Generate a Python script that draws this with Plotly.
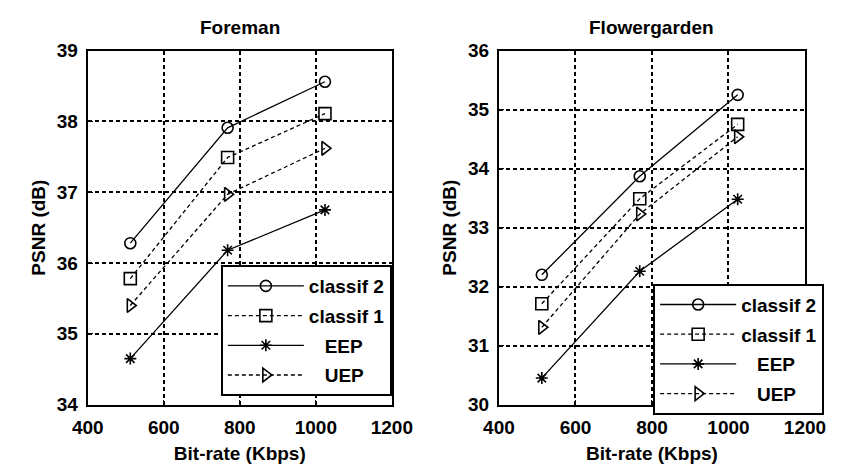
import plotly.graph_objects as go

bitrate = [512, 768, 1024]
series_names = ["classif 2", "classif 1", "EEP", "UEP"]
legend_labels = ["classif 2", "classif 1", "\u00a0\u00a0\u00a0EEP", "\u00a0\u00a0\u00a0UEP"]

foreman_classif2 = [36.28, 37.91, 38.56]
foreman_classif1 = [35.78, 37.49, 38.11]
foreman_eep = [34.65, 36.18, 36.75]
foreman_uep = [35.40, 36.97, 37.62]

flower_classif2 = [32.20, 33.87, 35.25]
flower_classif1 = [31.71, 33.49, 34.75]
flower_eep = [30.45, 32.26, 33.48]
flower_uep = [31.31, 33.23, 34.54]

titles = ["Foreman", "Flowergarden"]
x_ticks = [400, 600, 800, 1000, 1200]
foreman_yticks = [34, 35, 36, 37, 38, 39]
flower_yticks = [30, 31, 32, 33, 34, 35, 36]

FONT = "Liberation Sans, Arial, sans-serif"
TXT = dict(family=FONT, size=19, color="black", weight="bold")
styles = {
    "classif 2": dict(dash="solid", symbol="circle-open", size=11),
    "classif 1": dict(dash="4px,3px", symbol="square-open", size=12),
    "EEP": dict(dash="solid", symbol="asterisk-open", size=10),
    "UEP": dict(dash="4px,3px", symbol="triangle-right-open", size=12),
}

fig = go.Figure()
panels = [
    ("x", "y", "legend", [foreman_classif2, foreman_classif1, foreman_eep, foreman_uep]),
    ("x2", "y2", "legend2", [flower_classif2, flower_classif1, flower_eep, flower_uep]),
]
for xa, ya, lg, data in panels:
    for name, label, vals in zip(series_names, legend_labels, data):
        st = styles[name]
        fig.add_trace(go.Scatter(
            x=bitrate, y=vals, mode="lines+markers", name=label,
            xaxis=xa, yaxis=ya, legend=lg, legendgroup=lg + name,
            line=dict(color="black", width=1.3, dash=st["dash"]),
            marker=dict(symbol=st["symbol"], size=st["size"], color="black",
                        line=dict(color="black", width=1.6)),
        ))

axis_common = dict(
    showline=True, linecolor="black", linewidth=2, mirror=True,
    showgrid=True, gridcolor="black", gridwidth=1.5, griddash="4px,3px",
    ticks="inside", ticklen=5, tickwidth=1, tickcolor="black",
    tickfont=TXT, zeroline=False,
)
W, H = 848, 472
xdom1 = [75 / W, 393 / W]
xdom2 = [505 / W, 825 / W]
ydom = [1 - 413 / H, 1 - 42.5 / H]

legend_common = dict(xanchor="right", yanchor="bottom",
                     bgcolor="white", bordercolor="black", borderwidth=2,
                     font=TXT, traceorder="grouped", tracegroupgap=2, itemwidth=76)

fig.update_layout(
    width=W, height=H, margin=dict(l=0, r=0, t=0, b=0),
    paper_bgcolor="white", plot_bgcolor="white",
    font=TXT,
    xaxis=dict(domain=xdom1, range=[400, 1200], tickvals=x_ticks, anchor="y",
               title=dict(text="Bit-rate (Kbps)", font=TXT, standoff=9),
               ticklabelstandoff=5, **axis_common),
    yaxis=dict(domain=ydom, range=[foreman_yticks[0], foreman_yticks[-1]], tickvals=foreman_yticks,
               anchor="x", title=dict(text="PSNR (dB)", font=TXT, standoff=6),
               ticklabelstandoff=4, **axis_common),
    xaxis2=dict(domain=xdom2, range=[400, 1200], tickvals=x_ticks, anchor="y2",
                title=dict(text="Bit-rate (Kbps)", font=TXT, standoff=9),
                ticklabelstandoff=5, **axis_common),
    yaxis2=dict(domain=ydom, range=[flower_yticks[0], flower_yticks[-1]], tickvals=flower_yticks,
                anchor="x2", title=dict(text="PSNR (dB)", font=TXT, standoff=6),
                ticklabelstandoff=4, **axis_common),
    legend=dict(x=393 / W, y=1 - 404 / H, **legend_common),
    legend2=dict(x=845 / W, y=1 - 423.5 / H, **legend_common),
    annotations=[
        dict(text=titles[0], x=(xdom1[0] + xdom1[1]) / 2, y=1 - 18 / H, xref="paper", yref="paper",
             xanchor="center", yanchor="middle", showarrow=False, font=TXT),
        dict(text=titles[1], x=(xdom2[0] + xdom2[1]) / 2, y=1 - 18 / H, xref="paper", yref="paper",
             xanchor="center", yanchor="middle", showarrow=False, font=TXT),
    ],
)

fig.write_html("out.html")
